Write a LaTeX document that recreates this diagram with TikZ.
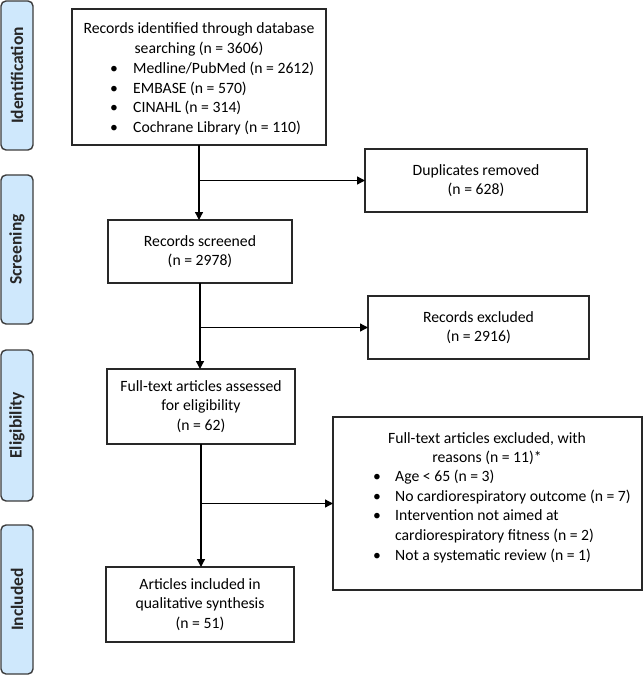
\documentclass[tikz,border=0pt]{standalone}
\usepackage{fontspec}
\setmainfont{Carlito}
\usetikzlibrary{arrows.meta}
\definecolor{phasefill}{RGB}{207,232,252}
\definecolor{phasedraw}{RGB}{60,60,60}
\definecolor{boxdraw}{RGB}{40,40,40}
\begin{document}
\begin{tikzpicture}[x=1pt,y=-1pt,
  txtfont/.style={font=\fontsize{15.7}{19.6}\selectfont},
  flowbox/.style={draw=boxdraw, line width=1.4pt, inner sep=0pt, outer sep=0pt, align=center, txtfont},
  phase/.style={draw=phasedraw, fill=phasefill, line width=1.4pt, rounded corners=5pt, inner sep=0pt, outer sep=0pt, minimum width=32pt},
  phaselabel/.style={rotate=90, font=\fontsize{17.5}{20}\selectfont\bfseries, text=black!85},
  arr/.style={line width=1.3pt, draw=black, -{Triangle[length=8pt,width=8pt]}},
  itemtxt/.style={txtfont, align=left, inner sep=0pt}
]
\useasboundingbox (0,0) rectangle (643,676);

% phase labels
\node[phase, minimum height=149pt] (pid) at (17,75.5) {};
\node[phaselabel] (tid) at (pid.center) {Identification};
\node[phase, minimum height=149pt] (psc) at (17,249.5) {};
\node[phaselabel] (tsc) at (psc.center) {Screening};
\node[phase, minimum height=151pt] (pel) at (17,425.5) {};
\node[phaselabel] (tel) at (pel.center) {Eligibility};
\node[phase, minimum height=149pt] (pin) at (17,599.5) {};
\node[phaselabel] (tin) at (pin.center) {Included};

% boxes
\node[flowbox, minimum width=254pt, minimum height=136pt] (b1) at (199,77) {};
\node[txtfont, align=center, inner sep=0pt] (b1h) at (199,39.5) {Records identified through database\\searching (n = 3606)};
\node[itemtxt, anchor=west] (b1l) at (110,98.5) {%
\makebox[23pt][l]{•}Medline/PubMed (n = 2612)\\
\makebox[23pt][l]{•}EMBASE (n = 570)\\
\makebox[23pt][l]{•}CINAHL (n = 314)\\
\makebox[23pt][l]{•}Cochrane Library (n = 110)};

\node[flowbox, minimum width=222pt, minimum height=63pt] (dup) at (476,180.5) {Duplicates removed\\(n = 628)};
\node[flowbox, minimum width=184pt, minimum height=63pt] (scr) at (200,251.5) {Records screened\\(n = 2978)};
\node[flowbox, minimum width=221pt, minimum height=63pt] (rex) at (478.5,327.5) {Records excluded\\(n = 2916)};
\node[flowbox, minimum width=188pt, minimum height=75pt] (fta) at (201,406.5) {Full-text articles assessed\\for eligibility\\(n = 62)};
\node[flowbox, minimum width=188pt, minimum height=75pt] (inc) at (200,604.5) {Articles included in\\qualitative synthesis\\(n = 51)};

\node[flowbox, minimum width=309pt, minimum height=173pt] (fte) at (487.5,503.5) {};
\node[txtfont, align=center, inner sep=0pt] (fteh) at (487,448.5) {Full-text articles excluded, with\\reasons (n = 11)*};
\node[itemtxt, anchor=west] (ftel) at (373,516.5) {%
\makebox[22pt][l]{•}Age < 65 (n = 3)\\
\makebox[22pt][l]{•}No cardiorespiratory outcome (n = 7)\\
\makebox[22pt][l]{•}Intervention not aimed at\\
\hspace*{22pt}cardiorespiratory fitness (n = 2)\\
\makebox[22pt][l]{•}Not a systematic review (n = 1)};

% connectors
\draw[arr] (b1.south) -- (b1.south |- scr.north);
\draw[arr] (b1.south |- dup.west) -- (dup.west);
\draw[arr] (scr.south) -- (scr.south |- fta.north);
\draw[arr] (scr.south |- rex.west) -- (rex.west);
\draw[arr] (fta.south) -- (fta.south |- inc.north);
\draw[arr] (fta.south |- fte.west) -- (fte.west);
\end{tikzpicture}
\end{document}
